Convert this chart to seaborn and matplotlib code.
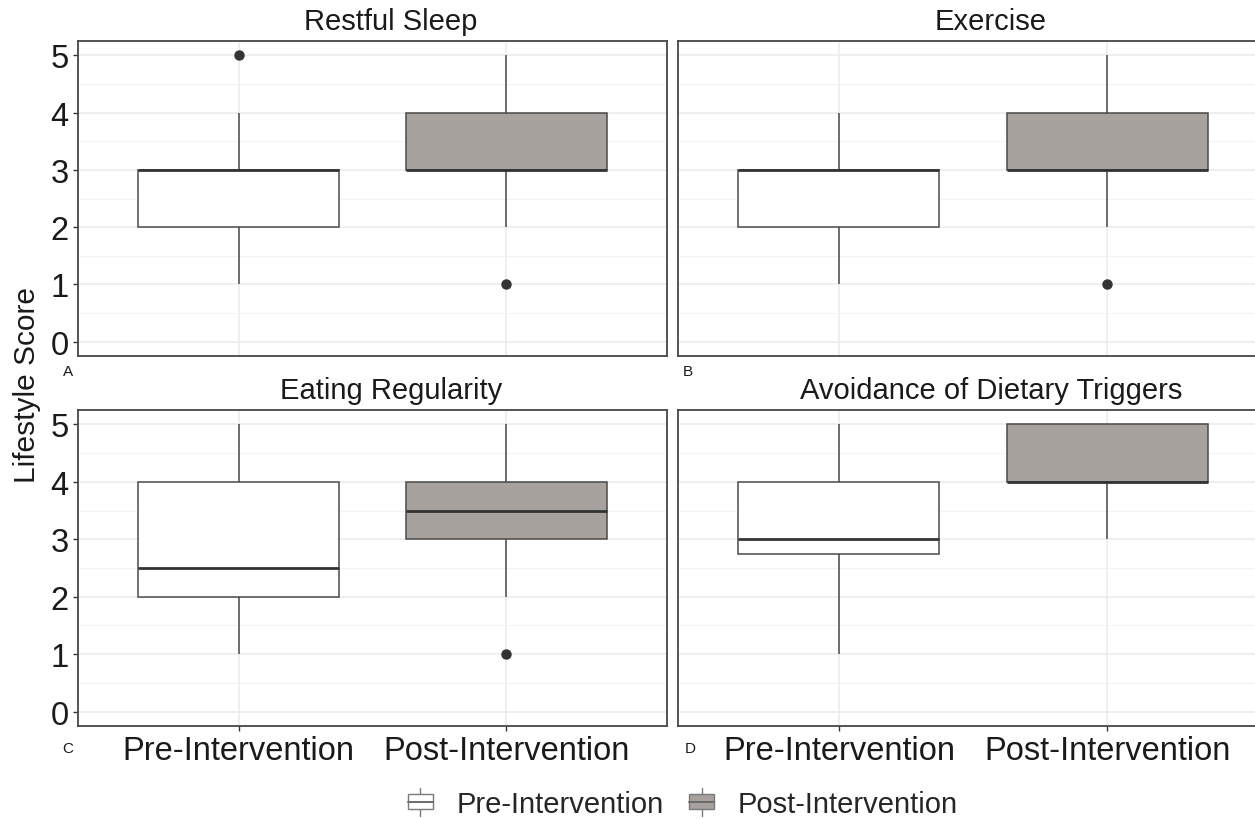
import numpy as np
import pandas as pd
import matplotlib
matplotlib.use("Agg")
import matplotlib.pyplot as plt
from matplotlib.legend_handler import HandlerBase
from matplotlib.lines import Line2D
from matplotlib.patches import Rectangle
import seaborn as sns

# Number of responses at each Likert score (1..5), per lifestyle domain and phase
scores = [1, 2, 3, 4, 5]
phases = ["Pre-Intervention", "Post-Intervention"]
domains = ["Restful Sleep", "Exercise", "Eating Regularity", "Avoidance of Dietary Triggers"]
panel_letters = ["A", "B", "C", "D"]

sleep_pre = [2, 7, 7, 3, 1]
sleep_post = [1, 3, 7, 7, 2]
exercise_pre = [2, 7, 7, 4, 0]
exercise_post = [1, 2, 8, 7, 2]
eating_pre = [3, 7, 4, 5, 1]
eating_post = [1, 3, 6, 8, 2]
triggers_pre = [2, 3, 9, 5, 1]
triggers_post = [0, 0, 2, 9, 9]

counts = {
    "Restful Sleep": (sleep_pre, sleep_post),
    "Exercise": (exercise_pre, exercise_post),
    "Eating Regularity": (eating_pre, eating_post),
    "Avoidance of Dietary Triggers": (triggers_pre, triggers_post),
}

rows = []
for dom, (pre, post) in counts.items():
    for phase, cnt in zip(phases, (pre, post)):
        for s, c in zip(scores, cnt):
            rows += [{"domain": dom, "phase": phase, "score": s}] * c
df = pd.DataFrame(rows)

sns.set_style("ticks")
plt.rcParams["font.family"] = ["Liberation Sans", "DejaVu Sans"]

W, H = 1255, 820
fig = plt.figure(figsize=(W / 100, H / 100), dpi=100)
fig.patch.set_facecolor("white")

pre_fill = "#ffffff"
post_fill = "#a9a19e"
edge = "#4a4a4a"
palette = {phases[0]: pre_fill, phases[1]: post_fill}


def px_axes(l, r, t, b):
    return fig.add_axes([l / W, 1 - b / H, (r - l) / W, (b - t) / H])


boxes = [(78, 667, 42, 357), (678, 1268, 42, 357),
         (78, 667, 411, 727), (678, 1268, 411, 727)]
title_pos = [(391, 22), (991, 22), (391, 391), (991, 391)]
letter_pos = [(68, 372), (688, 372), (68, 749), (690, 749)]

for i, dom in enumerate(domains):
    ax = px_axes(*boxes[i])
    sub = df[df["domain"] == dom]
    sns.boxplot(
        data=sub, x="phase", y="score", hue="phase", order=phases,
        palette=palette, width=0.75, linecolor=edge, linewidth=1.1,
        showcaps=False, whis=1.5, legend=False, ax=ax,
        flierprops=dict(marker="o", markerfacecolor="#333333",
                        markeredgecolor="#333333", markersize=6.5),
        medianprops=dict(color="#333333", linewidth=2.0),
    )
    ax.set_xlim(-0.6, 1.6)
    ax.set_ylim(-0.25, 5.25)
    ax.set_yticks(range(6))
    ax.set_yticks(np.arange(0.5, 5.5, 1.0), minor=True)
    ax.grid(which="major", color="#ebebeb", linewidth=1.1)
    ax.grid(which="minor", axis="y", color="#f3f3f3", linewidth=0.8)
    ax.set_axisbelow(True)
    ax.set_xlabel("")
    ax.set_ylabel("")
    for sp in ax.spines.values():
        sp.set_visible(True)
        sp.set_color("#474747")
        sp.set_linewidth(1.3)
    ax.tick_params(which="minor", length=0)
    left = i % 2 == 0
    bottom = i >= 2
    ax.tick_params(axis="y", labelsize=23.5, colors="#333333", length=3.6,
                   width=1.0, pad=3, left=left, labelleft=left,
                   labelcolor="#1a1a1a")
    ax.tick_params(axis="x", labelsize=23.5, colors="#333333", length=3.6,
                   width=1.0, pad=3, bottom=bottom, labelbottom=bottom,
                   labelcolor="#1a1a1a")
    fig.text(title_pos[i][0] / W, 1 - title_pos[i][1] / H, dom,
             ha="center", va="center", fontsize=21, color="#1a1a1a")
    fig.text(letter_pos[i][0] / W, 1 - letter_pos[i][1] / H, panel_letters[i],
             ha="center", va="center", fontsize=11, color="#1a1a1a")

fig.text(27 / W, 1 - 385 / H, "Lifestyle Score", rotation=90,
         ha="center", va="center", fontsize=21.5, color="#1a1a1a")


class BoxGlyph(HandlerBase):
    def create_artists(self, legend, orig_handle, xdescent, ydescent,
                       width, height, fontsize, trans):
        fc = orig_handle.get_facecolor()
        cx = width / 2 - xdescent
        bh = height * 0.8
        y0 = (height - bh) / 2 - ydescent
        whisk = Line2D([cx, cx], [y0 - height * 0.35, y0 + bh + height * 0.35],
                       color="#7a7a7a", lw=1.0, transform=trans)
        rect = Rectangle((-xdescent, y0), width, bh, facecolor=fc,
                         edgecolor="#7a7a7a", lw=1.0, transform=trans)
        med = Line2D([-xdescent, width - xdescent],
                     [y0 + bh / 2, y0 + bh / 2], color="#6a6a6a", lw=1.4,
                     transform=trans)
        return [whisk, rect, med]


handles = [Rectangle((0, 0), 1, 1, facecolor=pre_fill),
           Rectangle((0, 0), 1, 1, facecolor=post_fill)]
fig.legend(handles, phases, loc="center", bbox_to_anchor=(683 / W, 1 - 805 / H),
           ncol=2, frameon=False, fontsize=21, handlelength=0.86,
           handleheight=0.6, handletextpad=0.82, columnspacing=0.86,
           handler_map={Rectangle: BoxGlyph()})

fig.savefig("out.png", dpi=100, facecolor="white")
